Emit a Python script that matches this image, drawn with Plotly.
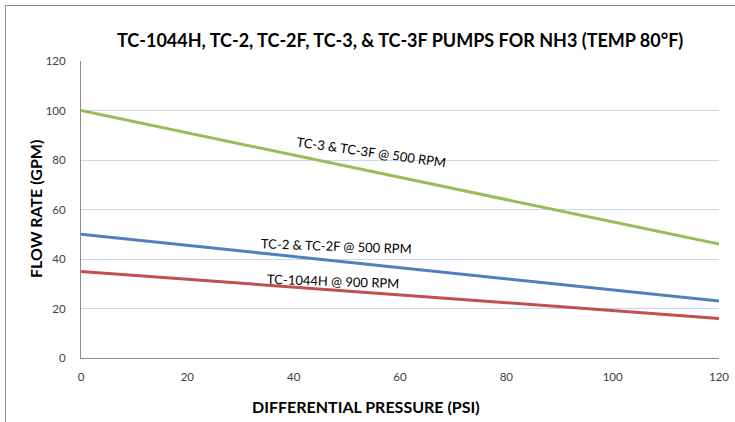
import plotly.graph_objects as go

pressure = [0, 20, 40, 60, 80, 100, 120]
tc3_flow = [100, 91, 82, 73, 64, 55, 46]
tc2_flow = [50, 45.5, 41, 36.5, 32, 27.5, 23]
tc1044_flow = [35, 31.8, 28.7, 25.5, 22.3, 19.2, 16]

series = [
    ("TC-3 & TC-3F @ 500 RPM", tc3_flow, "#9bbb59"),
    ("TC-2 & TC-2F @ 500 RPM", tc2_flow, "#4f81bd"),
    ("TC-1044H @ 900 RPM", tc1044_flow, "#c0504d"),
]

FONT = "Lato, 'Open Sans', sans-serif"

W, H = 735, 422
L, R, T, B = 81, 16, 61, 64
PW, PH = W - L - R, H - T - B

fig = go.Figure()
for name, ys, col in series:
    fig.add_trace(go.Scatter(x=pressure, y=ys, mode="lines", name=name,
                             line=dict(color=col, width=3), hoverinfo="skip"))

fig.update_layout(
    width=W, height=H,
    margin=dict(l=L, r=R, t=T, b=B, pad=0, autoexpand=False),
    paper_bgcolor="white", plot_bgcolor="white",
    showlegend=False,
    font=dict(family=FONT, color="#404040"),
    xaxis=dict(range=[0, 120], dtick=20, showgrid=False, zeroline=False,
               showline=True, linecolor="#8c8c8c", linewidth=1,
               ticks="", ticklabelstandoff=8, automargin=False,
               tickfont=dict(size=11.5, color="#404040", family=FONT)),
    yaxis=dict(range=[0, 120], dtick=20, showgrid=True, gridcolor="#c6d9f1",
               gridwidth=1, zeroline=False,
               showline=True, linecolor="#8c8c8c", linewidth=1,
               ticks="", ticklabelstandoff=12, automargin=False,
               tickfont=dict(size=11.5, color="#404040", family=FONT)),
)

def px_x(p):
    return (p - L) / PW

def px_y(p):
    return (H - B - p) / PH

fig.add_annotation(xref="paper", yref="paper", x=px_x(400), y=px_y(40),
                   text="<b>TC-1044H, TC-2, TC-2F, TC-3, & TC-3F PUMPS FOR NH3 (TEMP 80°F)</b>",
                   showarrow=False, xanchor="center", yanchor="middle",
                   font=dict(size=18, color="#000000", family=FONT))
fig.add_annotation(xref="paper", yref="paper", x=px_x(366), y=px_y(406),
                   text="<b>DIFFERENTIAL PRESSURE (PSI)</b>",
                   showarrow=False, xanchor="center", yanchor="middle",
                   font=dict(size=16, color="#000000", family=FONT))
fig.add_annotation(xref="paper", yref="paper", x=px_x(35), y=px_y(209),
                   text="<b>FLOW RATE (GPM)</b>", textangle=-90,
                   showarrow=False, xanchor="center", yanchor="middle",
                   font=dict(size=16, color="#000000", family=FONT))

fig.add_annotation(x=54.7, y=83.2, text="TC-3 & TC-3F @ 500 RPM", showarrow=False,
                   textangle=8, font=dict(size=13, color="#000000", family=FONT))
fig.add_annotation(x=48.1, y=45.3, text="TC-2 & TC-2F @ 500 RPM", showarrow=False,
                   textangle=2, font=dict(size=13, color="#000000", family=FONT))
fig.add_annotation(x=47.4, y=31.1, text="TC-1044H @ 900 RPM", showarrow=False,
                   textangle=2, font=dict(size=13, color="#000000", family=FONT))

fig.add_shape(type="line", xref="paper", yref="paper",
              x0=px_x(5.5), x1=px_x(5.5), y0=px_y(H + 2), y1=px_y(5.5),
              line=dict(color="#8c8c8c", width=1))
fig.add_shape(type="line", xref="paper", yref="paper",
              x0=px_x(5.5), x1=px_x(W + 2), y0=px_y(5.5), y1=px_y(5.5),
              line=dict(color="#8c8c8c", width=1))

fig.write_html("out.html",
               config={"displayModeBar": False},
               post_script="document.body.style.margin='0';document.body.style.overflow='hidden';")
